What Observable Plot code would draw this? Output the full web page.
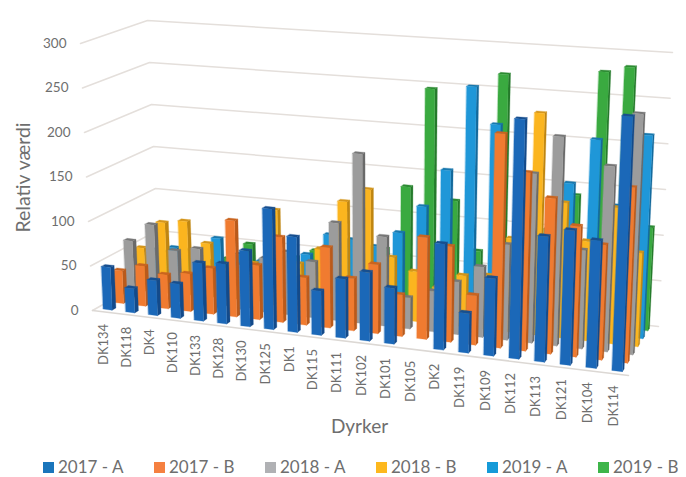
<!DOCTYPE html>
<html><head><meta charset="utf-8">
<script src="https://cdn.jsdelivr.net/npm/d3@7"></script>
<script src="https://cdn.jsdelivr.net/npm/@observablehq/plot@0.6"></script>
<style>
html,body{margin:0;padding:0;background:#fff;width:686px;height:477px;overflow:hidden}
#chart svg{display:block}
#legend{display:flex;height:20px;margin-top:12px;align-items:center;font:17px/20px Lato,sans-serif;color:#6e6e6e;padding-left:43px;white-space:pre}
#legend div{display:flex;flex:none;align-items:center;width:111px}
#legend i{display:block;width:11px;height:11px;margin-right:4px}
</style></head><body>
<div id="chart"></div><div id="legend"></div>
<script>
const categories = ["DK134","DK118","DK4","DK110","DK133","DK128","DK130","DK125","DK1","DK115","DK111","DK102","DK101","DK105","DK2","DK119","DK109","DK112","DK113","DK121","DK104","DK114"];
const seriesNames = ["2017 - A","2017 - B","2018 - A","2018 - B","2019 - A","2019 - B"];
const v2017A = [48,27,39,38,64,66,83,132,104,48,64,74,60,null,113,42,82,253,132,141,133,265];
const v2017B = [37,45,38,42,51,107,60,94,52,88,57,75,45,110,103,53,229,190,165,138,121,184];
const v2018A = [64,85,58,63,40,50,60,70,62,108,187,98,34,44,57,76,103,182,224,105,197,255];
const v2018B = [49,81,85,62,35,45,108,50,69,125,141,68,55,40,56,59,102,241,146,107,146,100];
const v2019A = [40,45,30,61,45,40,45,53,78,75,70,88,120,163,258,218,150,100,160,210,140,219];
const v2019B = [30,35,25,30,50,35,40,50,50,55,60,133,246,122,68,268,120,100,140,278,285,112];
const seriesValues = [v2017A,v2017B,v2018A,v2018B,v2019A,v2019B];
const ticks = [0,50,100,150,200,250,300];
const frontColors = ["#1b68b8","#f07b30","#9c9c9c","#fbb51f","#1f97d8","#3aaa40"];
const topColors   = ["#174f8f","#c9641f","#777777","#d4951a","#1878ad","#2c8a32"];
const sideColors  = ["#134a8a","#b95a1b","#6a6a6a","#bf8612","#14699b","#257a2b"];
const legendColors = ["#1a75bb","#f58040","#b0b1b4","#fdb81e","#159ad8","#3eb54a"];

// view of the chart's box: where its corners land in the picture
const box = {
  f0:[92,310], f1:[628,375], b0:[159,272], b1:[658,326],
  F0:[80,43],  F1:[640,85],  B0:[147,20],  B1:[672,52]
};
const mix = (a,b,t)=>[a[0]+(b[0]-a[0])*t, a[1]+(b[1]-a[1])*t];
const persp = (t,r)=>t/(t+r*(1-t));
function project(u,v,value){
  const U = persp(u,1.083), V = persp(v,0.95), W = value/300;
  const low = mix(mix(box.f0,box.f1,U), mix(box.b0,box.b1,U), V);
  const high = mix(mix(box.F0,box.F1,U), mix(box.B0,box.B1,U), V);
  return mix(low,high,W);
}
const barW = 0.40, barD = 0.33;
const faces = [];
function addFace(id,color,corners){
  corners.forEach(([u,v,w])=>{const [x,y]=project(u,v,w); faces.push({id,color,x,y});});
}
for (let s=5;s>=0;s--){
  categories.forEach((c,i)=>{
    const val = seriesValues[s][i];
    if (val==null) return;
    const u0=(i+.5-barW/2)/22, u1=(i+.5+barW/2)/22;
    const v0=(s+.5-barD/2)/6,  v1=(s+.5+barD/2)/6;
    addFace(`${s}-${i}-s`,sideColors[s],[[u1,v0,0],[u1,v1,0],[u1,v1,val],[u1,v0,val]]);
    addFace(`${s}-${i}-t`,topColors[s],[[u0,v0,val],[u1,v0,val],[u1,v1,val],[u0,v1,val]]);
    addFace(`${s}-${i}-f`,frontColors[s],[[u0,v0,0],[u1,v0,0],[u1,v0,val],[u0,v0,val]]);
  });
}
const grid = [];
ticks.forEach(t=>{
  [[0,0],[0,1],[1,1]].forEach(([u,v])=>{const [x,y]=project(u,v,t); grid.push({t,x,y});});
});
const floorFront = [[0,0],[1,0]].map(([u,v])=>{const [x,y]=project(u,v,0); return {x,y};});
const tickLabels = ticks.map(t=>{const [x,y]=project(0,0,t); return {t,x,y};});
const catLabels = categories.map((c,i)=>{const [x,y]=project((i+.5)/22,0.05,0); return {c,x,y};});

const textFill = "#6e6e6e";
const chart = Plot.plot({
  width:686, height:445, margin:0,
  x:{domain:[0,686],range:[0,686],axis:null},
  y:{domain:[0,445],range:[0,445],axis:null},
  color:{type:"identity"},
  style:{background:"#fff",fontFamily:"Lato, sans-serif"},
  marks:[
    Plot.line(grid,{x:"x",y:"y",z:"t",stroke:"#e4dfdb",strokeWidth:1.5}),
    Plot.line(floorFront,{x:"x",y:"y",stroke:"#dcd8d4",strokeWidth:1.5}),
    Plot.line(faces,{x:"x",y:"y",z:"id",fill:"color",stroke:"color",strokeWidth:0.3,curve:"linear-closed"}),
    Plot.text(tickLabels,{x:"x",y:"y",text:d=>String(d.t),dx:-14,textAnchor:"end",fill:textFill,fontSize:13.5}),
    Plot.text(catLabels,{x:"x",y:"y",text:"c",dx:-3,dy:14,rotate:-90,textAnchor:"end",fill:textFill,fontSize:13}),
    Plot.text(["Relativ værdi"],{frameAnchor:"top-left",textAnchor:"middle",dx:16,dy:177,rotate:-90,fill:textFill,fontSize:19.5}),
    Plot.text(["Dyrker"],{frameAnchor:"top-left",textAnchor:"middle",dx:359,dy:419,fill:textFill,fontSize:19})
  ]
});
document.getElementById("chart").append(chart);
const lg = document.getElementById("legend");
seriesNames.forEach((n,i)=>{
  const d=document.createElement("div");
  d.innerHTML=`<i style="background:${legendColors[i]}"></i><span>${n}</span>`;
  lg.append(d);
});
</script>
</body></html>
